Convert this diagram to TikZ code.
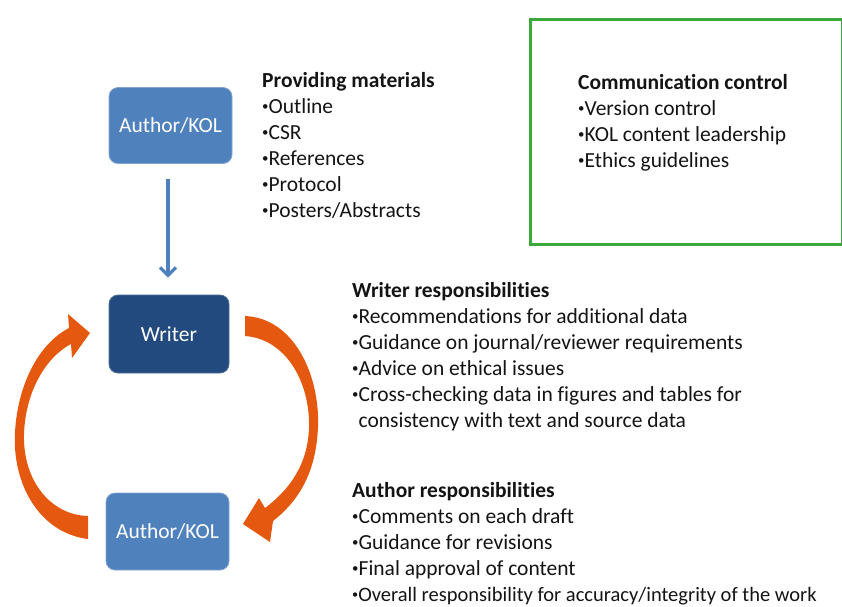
\documentclass[tikz,border=0pt]{standalone}
\usepackage{fontspec}
\setmainfont{Carlito}[RawFeature={-liga}]
\usetikzlibrary{arrows.meta}
\definecolor{midblue}{RGB}{79,129,189}
\definecolor{darkblue}{RGB}{34,74,126}
\definecolor{arrorange}{RGB}{229,88,16}
\definecolor{boxgreen}{RGB}{58,168,58}
\definecolor{txt}{RGB}{20,20,20}
\tikzset{
  rolebox/.style={rounded corners=9pt, minimum width=123pt, minimum height=76pt,
    text=white, font=\fontsize{21.5}{25}\selectfont, inner sep=0pt},
  lightrole/.style={rolebox, fill=midblue, draw=midblue!70!white, line width=0.8pt},
  darkrole/.style={rolebox, fill=darkblue, draw=darkblue!80!white, line width=0.8pt},
  textblock/.style={anchor=north west, inner sep=0pt, align=left, text=txt,
    font=\fontsize{21.5}{26}\selectfont},
  feed/.style={draw=midblue, line width=3.2pt, -{Straight Barb[length=8pt,width=16pt,line width=3.2pt]}},
  loop/.style={fill=arrorange, draw=none}
}
\newcommand{\fs}{\rule{0pt}{21pt}}
\newcommand{\bul}{\raisebox{0.3ex}{\scalebox{0.6}{•}}}
\begin{document}
\begin{tikzpicture}[x=1pt,y=-1pt]
\useasboundingbox (0,0) rectangle (842,606);
\fill[white] (0,0) rectangle (842,606);

% green box
\node[draw=boxgreen, line width=3pt, minimum width=312pt, minimum height=225pt, anchor=north west, inner sep=0pt] (cc) at (529,18) {};

% role boxes
\node[lightrole] (a1) at (170.5,125.5) {Author/KOL};
\node[darkrole, minimum width=120pt, minimum height=78pt] (w) at (169,334) {Writer};
\node[lightrole, minimum height=77pt] (a2) at (167.5,531.5) {Author/KOL};

% feed arrow
\draw[feed, shorten <=15pt, shorten >=17pt] (a1.south -| 168,0) -- (w.north -| 168,0);

% orange loop arrows
\path[loop] (88,539) .. controls (40,533) and (12,485) .. (15,432)
  .. controls (18,382) and (40,343) .. (69,328) -- (68,314) -- (90,333) -- (72,358)
  -- (71,344) .. controls (46,357) and (25,392) .. (24,435)
  .. controls (23,480) and (50,515) .. (88,516) -- cycle;
\path[loop] (245,316) .. controls (294,318) and (320,375) .. (318,427)
  .. controls (316,476) and (296,503) .. (273,521) -- (270,542) -- (243,524) -- (259,498)
  -- (265,508) .. controls (289,490) and (308,465) .. (309,427)
  .. controls (310,382) and (286,339) .. (245,336) -- cycle;

% text blocks
\node[textblock] (pm) at (262,66) {\fs\textbf{Providing materials}\\
\bul Outline\\\bul CSR\\\bul References\\\bul Protocol\\\bul Posters/Abstracts};
\node[textblock] (ct) at (578,68) {\fs\textbf{Communication control}\\
\bul Version control\\\bul KOL content leadership\\\bul Ethics guidelines};
\node[textblock] (wr) at (352,276) {\fs\textbf{Writer responsibilities}\\
\bul Recommendations for additional data\\
\bul Guidance on journal/reviewer requirements\\
\bul Advice on ethical issues\\
\bul Cross-checking data in figures and tables for\\
\phantom{\bul}consistency with text and source data};
\node[textblock] (ar) at (352,476) {\fs\textbf{Author responsibilities}\\
\bul Comments on each draft\\
\bul Guidance for revisions\\
\bul Final approval of content\\
{\fontsize{20.5}{26}\selectfont\bul Overall responsibility for accuracy/integrity of the work}};
\end{tikzpicture}
\end{document}
